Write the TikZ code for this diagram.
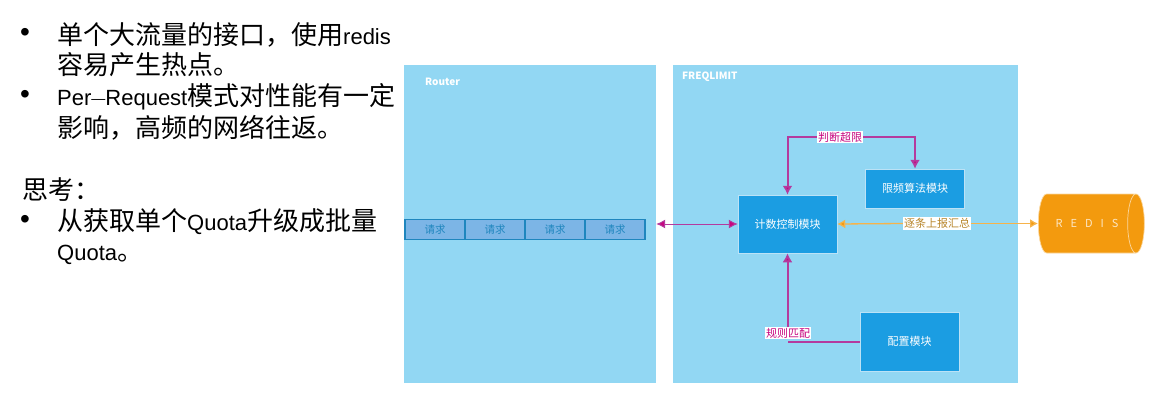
\documentclass[tikz,border=0pt]{standalone}
\usepackage{fontspec}
\setmainfont{Noto Sans CJK SC}
\newfontfamily\latfont{Liberation Sans}
\newcommand{\lat}[1]{{\latfont\fontsize{22}{30}\selectfont #1}}
\newcommand{\latdash}{{\latfont\fontsize{14}{30}\selectfont\raisebox{2.5pt}{—}}}
\usetikzlibrary{arrows.meta,shapes.geometric}
\definecolor{panelblue}{HTML}{92D7F3}
\definecolor{boxblue}{HTML}{1B9DE2}
\definecolor{cellblue}{HTML}{7CB5E6}
\definecolor{celledge}{HTML}{1F86BE}
\definecolor{magline}{HTML}{C7057F}
\definecolor{magpale}{HTML}{B43A9E}
\definecolor{orangefill}{HTML}{F39A0E}
\definecolor{orangetext}{HTML}{B8862B}
\tikzset{
	slidetext/.style={anchor=west, inner sep=0pt, font=\fontsize{26}{30}\selectfont},
	dotmark/.style={anchor=center, inner sep=0pt, font=\latfont\fontsize{28}{30}\selectfont},
	panel/.style={fill=panelblue, minimum width=#1, minimum height=318pt, inner sep=0pt},
	paneltitle/.style={anchor=west, inner sep=0pt, text=white, font=\bfseries\fontsize{10}{12}\selectfont},
	modbox/.style={fill=boxblue, draw=white!70!boxblue, line width=0.5pt, text=white, minimum width=99pt, inner sep=0pt, font=\fontsize{11}{13}\selectfont},
	reqcell/.style={fill=cellblue, draw=celledge, line width=1.5pt, minimum width=60pt, minimum height=20pt, inner sep=0pt, text=celledge, font=\fontsize{10.5}{12}\selectfont},
	flowlabel/.style={fill=white, inner sep=1pt, font=\fontsize{11}{13}\selectfont},
	magflow/.style={draw=magpale, line width=2pt, -{Latex[length=9pt,width=10pt,fill=magline]}},
	orangeflow/.style={draw=orangefill!75!white, line width=1.3pt, {Latex[length=8pt,width=9pt,fill=orangefill]}-}
}
\begin{document}
\begin{tikzpicture}[x=1pt, y=-1pt]
	\useasboundingbox (0,0) rectangle (1151,400);
	% left column
	\node[dotmark] (dotA) at (25,35) {•};
	\node[slidetext] (lineA) at (57,35) {单个大流量的接口，使用\lat{redis}};
	\node[slidetext] (lineB) at (57,65) {容易产生热点。};
	\node[dotmark] (dotB) at (25,97) {•};
	\node[slidetext] (lineC) at (57,97) {\lat{Per\latdash Request}模式对性能有一定};
	\node[slidetext] (lineD) at (57,128) {影响，高频的网络往返。};
	\node[slidetext] (lineE) at (22,190) {思考：};
	\node[dotmark] (dotC) at (25,222) {•};
	\node[slidetext] (lineF) at (57,222) {从获取单个\lat{Quota}升级成批量};
	\node[slidetext] (lineG) at (57,255) {\lat{Quota}。};
	% panels
	\node[panel=252pt] (router) at (530,224) {};
	\node[panel=345pt] (freq) at (845.5,224) {};
	\node[paneltitle] (routertitle) at (425,82) {Router};
	\node[paneltitle] (freqtitle) at (682,77) {FREQLIMIT};
	% request queue
	\foreach \i/\cx in {1/435,2/495,3/555,4/615}
		\node[reqcell] (req\i) at (\cx,229.5) {请求};
	% modules
	\node[modbox, minimum height=58pt] (count) at (787.5,224) {计数控制模块};
	\node[modbox, minimum height=39pt] (limit) at (915,188.5) {限频算法模块};
	\node[modbox, minimum height=59pt] (config) at (909.5,341.5) {配置模块};
	\node[cylinder, shape aspect=2, fill=orangefill, draw=white!60!orangefill, line width=0.7pt, minimum height=106pt, minimum width=59pt, inner sep=0pt, text=white!75!orangefill, font=\fontsize{11}{13}\selectfont] (redis) at (1087,223.5) {R\hspace{8pt}E\hspace{8pt}D\hspace{8pt}I\hspace{8pt}S\hspace{8pt}};
	% labels on the lines
	\node[flowlabel, text=magline] (judge) at (840,137) {判断超限};
	\node[flowlabel, text=orangetext] (report) at (937,223.5) {逐条上报汇总};
	\coordinate (ruleturn) at (787.5,341.5);
	% connectors
	\draw[magflow, {Latex[length=9pt,width=9pt,fill=magline]}-{Latex[length=9pt,width=9pt,fill=magline]}, line width=1pt] (router.east) -- (count.west);
	\draw[magflow] (judge.west) -| (count.north);
	\draw[magflow] (judge.east) -| (limit.north);
	\draw[orangeflow] (count.east) -- (report.west);
	\draw[orangeflow] (redis.west) -- (report.east);
	\draw[magflow, -] (config.west) -- (ruleturn);
	\node[flowlabel, text=magline] (rule) at (788,333) {规则匹配};
	\draw[magflow] (count.south |- rule.north) -- (count.south);
\end{tikzpicture}
\end{document}
